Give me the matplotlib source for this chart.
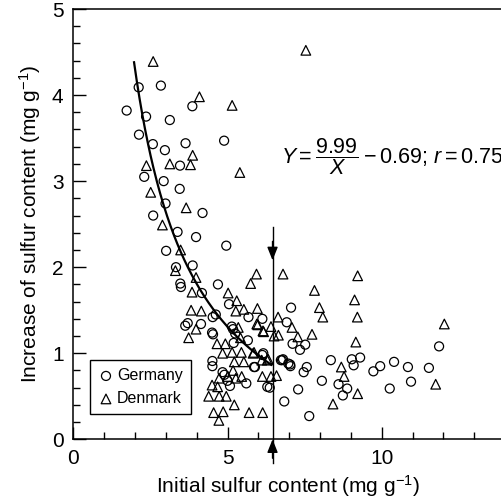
import matplotlib
matplotlib.use("Agg")
import matplotlib.pyplot as plt
from matplotlib.ticker import MultipleLocator
import numpy as np

plt.rcParams['font.family'] = ['Liberation Sans', 'DejaVu Sans']
plt.rcParams['mathtext.fontset'] = 'custom'
plt.rcParams['mathtext.rm'] = 'Liberation Sans'
plt.rcParams['mathtext.it'] = 'Liberation Sans:italic'
plt.rcParams['mathtext.bf'] = 'Liberation Sans:bold'

# Germany samples (initial S, increase of S)
germany_x = [2.12, 2.84, 1.73, 3.86, 2.36, 3.13, 2.13, 2.58, 3.64, 2.97, 4.89, 3.46, 2.30, 2.93,
             3.45, 2.99, 2.59, 4.19, 3.38, 3.98, 3.01, 4.96, 3.33, 3.87, 3.47, 3.49, 4.69, 4.17,
             4.62, 4.52, 3.71, 3.63, 4.14, 4.50, 4.53, 5.05, 5.68, 5.14, 5.18, 5.66, 5.20, 5.25,
             6.13, 6.16, 4.51, 4.51, 4.84, 4.90, 5.86, 5.61, 5.08, 5.00, 6.29, 7.06, 6.92, 7.11,
             7.35, 7.52, 6.13, 5.89, 6.73, 6.80, 7.03, 7.04, 7.57, 7.47, 8.35, 9.03, 9.09, 9.30,
             8.06, 7.29, 6.37, 6.84, 7.65, 8.60, 8.88, 8.74, 9.73, 9.95, 10.40, 10.26, 10.85,
             10.95, 11.53, 11.86, 6.77, 6.97]
germany_y = [4.09, 4.11, 3.82, 3.87, 3.75, 3.71, 3.54, 3.43, 3.44, 3.36, 3.47, 3.18, 3.05, 3.00,
             2.91, 2.74, 2.60, 2.63, 2.41, 2.35, 2.19, 2.25, 2.00, 2.02, 1.81, 1.77, 1.80, 1.70,
             1.45, 1.42, 1.35, 1.32, 1.34, 1.24, 1.22, 1.57, 1.42, 1.31, 1.28, 1.15, 1.12, 1.23,
             1.40, 1.00, 0.91, 0.85, 0.78, 0.75, 0.84, 0.65, 0.62, 0.68, 0.61, 1.53, 1.36, 1.11,
             1.04, 1.10, 0.98, 0.84, 0.92, 0.93, 0.87, 0.85, 0.84, 0.78, 0.92, 0.93, 0.86, 0.95,
             0.68, 0.58, 0.60, 0.44, 0.27, 0.64, 0.59, 0.51, 0.79, 0.85, 0.90, 0.59, 0.84,
             0.67, 0.83, 1.08, 0.92, 0.88]

# Denmark samples
denmark_x = [2.59, 4.09, 5.15, 3.87, 2.37, 3.13, 3.80, 5.40, 2.51, 3.66, 2.89, 7.54, 3.48, 3.31,
             3.98, 3.85, 3.82, 4.15, 3.98, 3.74, 5.02, 5.30, 5.27, 5.53, 5.97, 5.94, 5.75, 5.95,
             6.15, 5.35, 5.42, 4.66, 4.93, 4.84, 5.15, 5.45, 5.22, 5.53, 5.86, 6.11, 6.29, 5.18,
             5.01, 5.27, 5.46, 4.73, 4.50, 4.68, 6.13, 4.39, 4.73, 4.96, 5.22, 4.55, 4.86, 4.72,
             5.70, 6.14, 6.80, 9.22, 7.82, 9.12, 6.64, 7.98, 8.09, 9.21, 5.98, 6.17, 6.41, 6.51,
             6.65, 7.09, 7.28, 7.74, 9.16, 5.83, 6.32, 6.41, 6.59, 8.69, 8.78, 9.22, 8.42, 11.75,
             12.03]
denmark_y = [4.39, 3.98, 3.88, 3.30, 3.18, 3.20, 3.19, 3.10, 2.87, 2.69, 2.49, 4.52, 2.20, 1.96,
             1.88, 1.71, 1.50, 1.49, 1.28, 1.18, 1.70, 1.61, 1.49, 1.51, 1.52, 1.92, 1.81, 1.34,
             1.26, 1.30, 1.18, 1.11, 1.11, 1.00, 1.01, 1.01, 0.90, 0.90, 1.01, 0.92, 0.92, 0.80,
             0.73, 0.71, 0.73, 0.71, 0.63, 0.61, 0.73, 0.50, 0.50, 0.50, 0.40, 0.31, 0.32, 0.22,
             0.31, 0.31, 1.92, 1.90, 1.73, 1.62, 1.42, 1.53, 1.42, 1.42, 1.33, 1.25, 1.31, 1.20,
             1.21, 1.30, 1.19, 1.22, 1.13, 1.00, 0.93, 0.73, 0.74, 0.84, 0.73, 0.53, 0.41, 0.64,
             1.34]

# fitted curve Y = a/X + b
fit_a = 9.99
fit_b = -0.69
fit_range = (1.97, 6.42)
threshold_x = 6.46

fig = plt.figure(figsize=(5.02, 5.03), dpi=100)
ax = fig.add_axes([0.146, 0.1266, 0.854, 0.8555])

ax.scatter(germany_x, germany_y, marker='o', s=42, facecolors='none', edgecolors='black',
           linewidths=0.9, label='Germany', zorder=3)
ax.scatter(denmark_x, denmark_y, marker='^', s=48, facecolors='none', edgecolors='black',
           linewidths=0.9, label='Denmark', zorder=3)

xf = np.linspace(fit_range[0], fit_range[1], 200)
ax.plot(xf, fit_a / xf + fit_b, color='black', linewidth=1.6, zorder=4)

# vertical threshold marker with arrows
ax.plot([threshold_x, threshold_x], [2.47, -0.28], color='black', linewidth=1.0, clip_on=False)
ax.annotate('', xy=(threshold_x, 2.08), xytext=(threshold_x, 2.30),
            arrowprops=dict(arrowstyle='-|>,head_length=0.5,head_width=0.2', color='black',
                            lw=1.0, mutation_scale=16, shrinkA=0, shrinkB=0))
ax.annotate('', xy=(threshold_x, 0.0), xytext=(threshold_x, -0.22), annotation_clip=False,
            arrowprops=dict(arrowstyle='-|>,head_length=0.5,head_width=0.2', color='black',
                            lw=1.0, mutation_scale=16, shrinkA=0, shrinkB=0))

ax.text(6.72, 3.28, r'$Y=\dfrac{9.99}{X}-0.69;\,r=0.75$', fontsize=15.5, ha='left', va='center')

ax.set_xlim(0, 13.9)
ax.set_ylim(0, 5)
ax.xaxis.set_major_locator(MultipleLocator(5))
ax.xaxis.set_minor_locator(MultipleLocator(1))
ax.yaxis.set_major_locator(MultipleLocator(1))
ax.yaxis.set_minor_locator(MultipleLocator(0.2))
ax.tick_params(which='both', direction='in', width=1.0, labelsize=15)
ax.tick_params(which='major', length=9, pad=7)
ax.tick_params(which='minor', length=5)
ax.spines['right'].set_visible(False)
for s in ['left', 'bottom', 'top']:
    ax.spines[s].set_linewidth(1.1)

ax.set_xlabel(r'Initial sulfur content (mg g$^{-1}$)', fontsize=15, labelpad=4)
ax.set_ylabel(r'Increase of sulfur content (mg g$^{-1}$)', fontsize=15, labelpad=6)

leg = ax.legend(loc='upper left', bbox_to_anchor=(0.039, 0.184), fontsize=11.5, frameon=True,
                fancybox=False, edgecolor='black', framealpha=1, handletextpad=0.2,
                handlelength=1.0, borderpad=0.5, labelspacing=0.5, borderaxespad=0)
leg.get_frame().set_linewidth(1.0)

fig.savefig('out.png', dpi=100)
